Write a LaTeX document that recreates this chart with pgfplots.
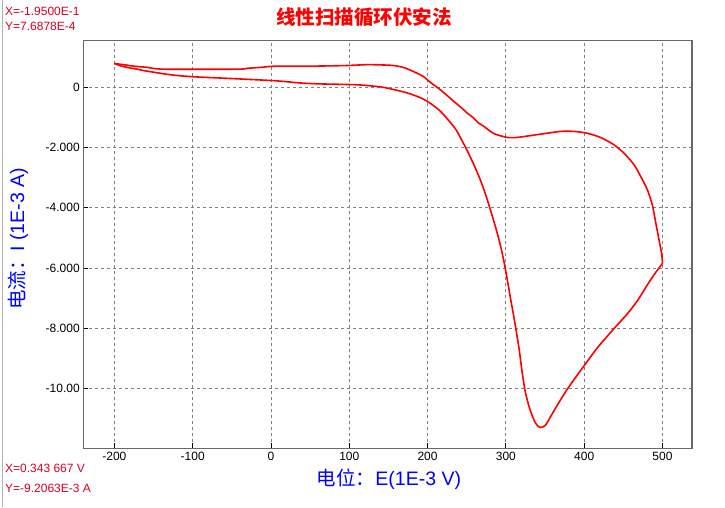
\documentclass[border=0pt]{standalone}
\usepackage{fontspec}
\setmainfont{Liberation Sans}
\newfontfamily\cjk{Noto Sans CJK SC}
\usepackage{pgfplots}
\pgfplotsset{compat=1.18}
\definecolor{axgray}{RGB}{105,105,105}
\definecolor{gridgray}{RGB}{128,128,128}
\definecolor{infored}{RGB}{215,0,40}
\definecolor{lblblue}{RGB}{0,0,255}
\begin{document}
\begin{tikzpicture}
\useasboundingbox (-83.3pt,-58.7pt) rectangle (641.7pt,448.3pt);
\fill[white] (-83.3pt,-58.7pt) rectangle (641.7pt,448.3pt);
\draw[gray!60, line width=1pt] (-80.8pt,-58.7pt) -- (-80.8pt,448.3pt);
\begin{axis}[
  at={(0pt,0pt)}, anchor=south west,
  scale only axis, width=608.7pt, height=408pt,
  xmin=-239.7, xmax=537.7, ymin=-12, ymax=1.57,
  xtick={-200,-100,0,100,200,300,400,500},
  xticklabels={-200,-100,0,100,200,300,400,500},
  ytick={0,-2,-4,-6,-8,-10},
  yticklabels={0,-2.000,-4.000,-6.000,-8.000,-10.00},
  tick align=inside, major tick length=5pt,
  xtick pos=bottom, ytick pos=left,
  tick style={black, line width=0.8pt},
  axis line style={axgray, line width=1.2pt},
  grid=major,
  grid style={gridgray, line width=0.8pt, dash pattern=on 3pt off 3pt},
  ticklabel style={font=\fontsize{12}{14}\selectfont, black},
]
% forward scan (lower branch)
\addplot[red, line width=1.6pt, line join=round, mark=none, smooth, tension=0.45] coordinates {
(-200,0.80) (-192,0.72) (-184,0.67) (-173,0.62) (-162,0.56) (-150,0.51)
(-133,0.44) (-116,0.39) (-94,0.35) (-60,0.31) (-13,0.25) (8,0.22)
(38,0.15) (63,0.12) (110,0.09) (140,0.02) (157,-0.07) (174,-0.18)
(191,-0.34) (202,-0.50) (216,-0.78) (229,-1.16) (237,-1.43) (243,-1.72)
(251,-2.12) (259,-2.56) (267,-3.05) (274,-3.55) (280,-4.05) (287,-4.66)
(293,-5.25) (298,-5.85) (302,-6.42) (306,-7.03) (310,-7.60) (316.5,-8.63)
(321,-9.51) (325,-10.15) (331,-10.73) (338,-11.17) (344,-11.31) (350.6,-11.23)
(357,-10.95) (366,-10.55) (378,-10.05) (391,-9.57) (402,-9.18) (417,-8.65)
(438,-8.02) (455,-7.53) (468,-7.09) (481,-6.55) (490,-6.20) (500,-5.85)
};
% reverse scan (upper branch)
\addplot[red, line width=1.6pt, line join=round, mark=none, smooth, tension=0.45] coordinates {
(500,-5.85)
(499,-5.54) (495,-4.99) (491,-4.44) (487,-3.90) (480.5,-3.39) (472,-2.95)
(463.4,-2.56) (450.6,-2.18) (437.8,-1.90) (420.8,-1.66) (403.8,-1.52) (386.7,-1.46)
(369.7,-1.46) (352.7,-1.52) (331.4,-1.60) (314.4,-1.66) (301.7,-1.66) (284.5,-1.53)
(271.8,-1.29) (265,-1.18) (259,-1.02) (250.6,-0.85) (246,-0.74) (233.5,-0.46)
(216.5,-0.08) (202,0.20) (195,0.36) (182,0.53) (170,0.66) (157,0.73)
(142,0.75) (123,0.76) (95,0.73) (50,0.71) (6,0.71) (-13,0.67)
(-30,0.64) (-43,0.61) (-137,0.61) (-158,0.67) (-175,0.71) (-186,0.75) (-200,0.80)
};
\end{axis}
\node[red, font=\cjk\bfseries\fontsize{19.5}{22}\selectfont] at (280.7pt,431.3pt) {线性扫描循环伏安法};
\node[lblblue, font=\fontsize{19.5}{22}\selectfont] at (305.7pt,-30.7pt) {{\cjk 电位：}E(1E-3 V)};
\node[lblblue, font=\fontsize{19.5}{22}\selectfont, rotate=90] at (-65.3pt,209.3pt) {{\cjk 电流：}I (1E-3 A)};
\node[infored, anchor=west, inner sep=0pt, font=\fontsize{12}{14}\selectfont] at (-78.3pt,437.3pt) {X=-1.9500E-1};
\node[infored, anchor=west, inner sep=0pt, font=\fontsize{12}{14}\selectfont] at (-78.3pt,422.3pt) {Y=7.6878E-4};
\node[infored, anchor=west, inner sep=0pt, font=\fontsize{12}{14}\selectfont] at (-78.3pt,-20pt) {X=0.343 667 V};
\node[infored, anchor=west, inner sep=0pt, font=\fontsize{12}{14}\selectfont] at (-78.3pt,-40pt) {Y=-9.2063E-3 A};
\end{tikzpicture}
\end{document}
